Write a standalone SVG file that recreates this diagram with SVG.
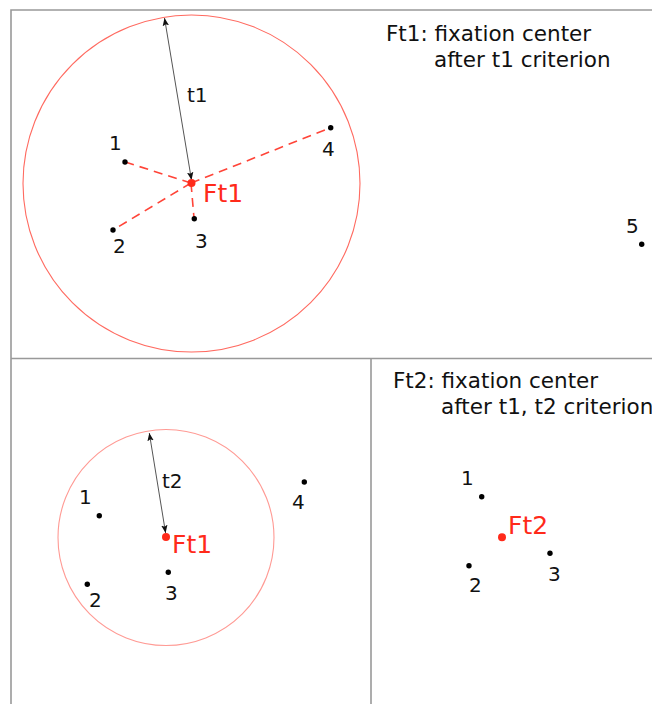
<svg xmlns="http://www.w3.org/2000/svg" width="652" height="704" viewBox="0 0 652 704">
<style>
.lbl{font-family:"DejaVu Sans",sans-serif;font-size:20px;fill:#111}
.ttl{font-family:"DejaVu Sans",sans-serif;font-size:21.5px;fill:#111}
.fc{font-family:"DejaVu Sans",sans-serif;font-size:25px;fill:#ff2a1a}
.pt{fill:#000}
.ctr{fill:#ff2a1a}
.ring{fill:none;stroke:#ff6a60;stroke-width:1.1}
.ring2{fill:none;stroke:#ff9a94;stroke-width:1.1}
.dash{stroke:#ff4438;stroke-width:1.6;stroke-dasharray:9 6;fill:none}
.arr{stroke:#555;stroke-width:1;fill:none;marker-start:url(#ah);marker-end:url(#ah)}
.frame{stroke:#999;stroke-width:1.6;fill:none}
</style>
<defs>
<marker id="ah" viewBox="0 0 10 10" refX="10" refY="5" markerWidth="8" markerHeight="8" markerUnits="userSpaceOnUse" orient="auto-start-reverse">
<path d="M0,1 L10,5 L0,9 L2,5 Z" fill="#111"/>
</marker>
</defs>
<rect width="652" height="704" fill="#fff"/>
<g id="frames">
<path class="frame" d="M11,704 V10 H652"/>
<path class="frame" d="M11,358.5 H652"/>
<path class="frame" d="M371,358.5 V704"/>
</g>
<g id="connectors">
<line class="dash" x1="191" y1="183" x2="125" y2="162"/>
<line class="dash" x1="191" y1="183" x2="113" y2="230"/>
<line class="dash" x1="191" y1="183" x2="194" y2="218"/>
<line class="dash" x1="191" y1="183" x2="330" y2="128"/>
<line class="arr" x1="164.5" y1="18" x2="191.5" y2="180"/>
<line class="arr" x1="149.3" y1="433" x2="165.6" y2="533"/>
</g>
<g id="circle-t1"><circle class="ring" cx="191.5" cy="183.5" r="168.5"/></g>
<g id="circle-t2"><circle class="ring2" cx="166" cy="537.5" r="108"/></g>
<g id="title1">
<text class="ttl" x="386" y="41">Ft1: fixation center</text>
<text class="ttl" x="434" y="67">after t1 criterion</text>
</g>
<g id="title2">
<text class="ttl" x="393" y="388">Ft2: fixation center</text>
<text class="ttl" x="441" y="414">after t1, t2 criterion</text>
</g>
<g id="label-t1"><text class="lbl" x="187" y="102">t1</text></g>
<g id="label-t2"><text class="lbl" x="162" y="488">t2</text></g>
<g id="top-p1"><circle class="pt" cx="125" cy="162" r="2.7"/><text class="lbl" x="109" y="150">1</text></g>
<g id="top-p2"><circle class="pt" cx="113" cy="230" r="2.7"/><text class="lbl" x="113" y="253">2</text></g>
<g id="top-p3"><circle class="pt" cx="194.3" cy="218.7" r="2.7"/><text class="lbl" x="195" y="248">3</text></g>
<g id="top-p4"><circle class="pt" cx="330.7" cy="127.7" r="2.7"/><text class="lbl" x="322" y="156">4</text></g>
<g id="top-p5"><circle class="pt" cx="641.7" cy="244.3" r="2.7"/><text class="lbl" x="626" y="233">5</text></g>
<g id="top-ft1"><circle class="ctr" cx="191.5" cy="183" r="4"/><text class="fc" x="203" y="202">Ft1</text></g>
<g id="bl-p1"><circle class="pt" cx="99.3" cy="515.7" r="2.7"/><text class="lbl" x="79" y="504">1</text></g>
<g id="bl-p2"><circle class="pt" cx="87.3" cy="584.3" r="2.7"/><text class="lbl" x="89" y="607">2</text></g>
<g id="bl-p3"><circle class="pt" cx="168.3" cy="572.3" r="2.7"/><text class="lbl" x="165" y="600">3</text></g>
<g id="bl-p4"><circle class="pt" cx="304.3" cy="482" r="2.7"/><text class="lbl" x="292" y="509">4</text></g>
<g id="bl-ft1"><circle class="ctr" cx="166" cy="537" r="4"/><text class="fc" x="172" y="553">Ft1</text></g>
<g id="br-p1"><circle class="pt" cx="481.7" cy="496.7" r="2.7"/><text class="lbl" x="461" y="485">1</text></g>
<g id="br-p2"><circle class="pt" cx="469" cy="565.7" r="2.7"/><text class="lbl" x="469" y="592">2</text></g>
<g id="br-p3"><circle class="pt" cx="550" cy="553.3" r="2.7"/><text class="lbl" x="548" y="581">3</text></g>
<g id="br-ft2"><circle class="ctr" cx="502" cy="537.3" r="4"/><text class="fc" x="508" y="534">Ft2</text></g>
</svg>
